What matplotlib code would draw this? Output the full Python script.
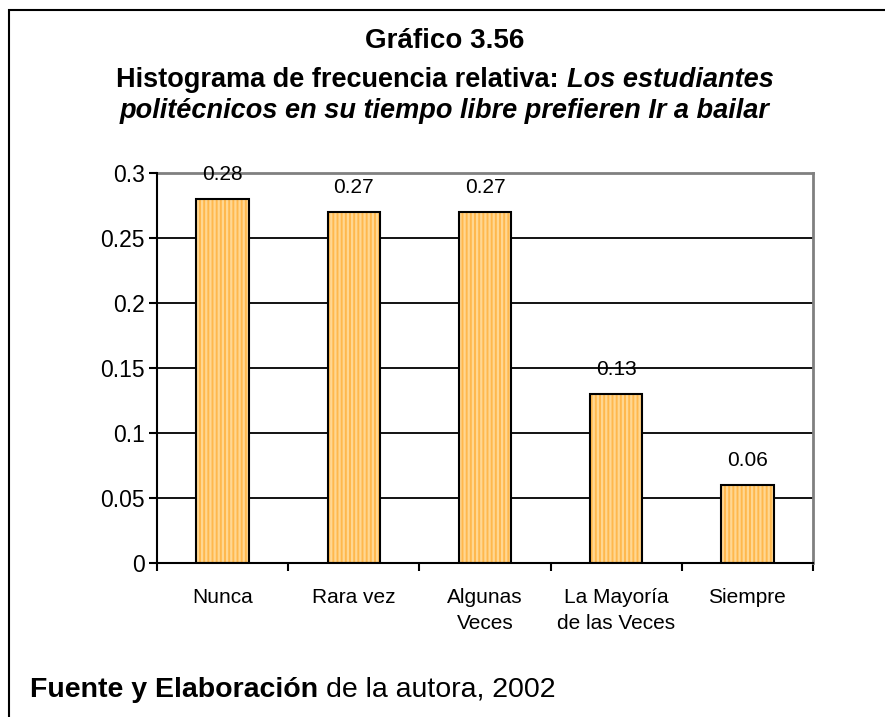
import numpy as np
import matplotlib
matplotlib.use("Agg")
from matplotlib import pyplot as plt
from matplotlib.patches import Rectangle

plt.rcParams['font.family'] = ['Liberation Sans', 'DejaVu Sans']
plt.rcParams['hatch.linewidth'] = 1.6

# frecuencia relativa por categoria
categorias = ['Nunca', 'Rara vez', 'Algunas\nVeces', 'La Mayoría\nde las Veces', 'Siempre']
frecuencia = [0.28, 0.27, 0.27, 0.13, 0.06]
etiquetas = ['0.28', '0.27', '0.27', '0.13', '0.06']
yticks = [0, 0.05, 0.1, 0.15, 0.2, 0.25, 0.3]
ytick_labels = ['0', '0.05', '0.1', '0.15', '0.2', '0.25', '0.3']

W, H = 885, 717
fig = plt.figure(figsize=(W / 100, H / 100), dpi=100)
fig.patch.set_facecolor('white')

# marco exterior
fig.patches.append(Rectangle((9 / W, -0.05), 1.2, 1 - 10 / H + 0.05, transform=fig.transFigure,
                             fill=False, edgecolor='black', linewidth=1.5))

ax = fig.add_axes([157 / W, 1 - 563 / H, (813 - 157) / W, (563 - 173) / H])
x = np.arange(len(categorias))

# relleno rayado y luego el contorno negro
ax.bar(x, frecuencia, width=0.4, color='#FFB84D', edgecolor='#FFD792', linewidth=0,
       hatch='||||', zorder=3)
ax.bar(x, frecuencia, width=0.4, fill=False, edgecolor='black', linewidth=1.5, zorder=4)

for xi, v, t in zip(x, frecuencia, etiquetas):
    ax.annotate(t, (xi, v), xytext=(0, 13.5), textcoords='offset points',
                ha='center', va='baseline', fontsize=15, zorder=5)

ax.set_xlim(-0.5, len(categorias) - 0.5)
ax.set_ylim(0, 0.3)
ax.set_yticks(yticks)
ax.set_yticklabels(ytick_labels)
ax.yaxis.grid(True, color='black', linewidth=1.3)
ax.set_axisbelow(True)

ax.set_xticks(np.arange(len(categorias) + 1) - 0.5)
ax.set_xticklabels([])
ax.set_xticks(x, minor=True)
ax.set_xticklabels(categorias, minor=True, fontsize=15, linespacing=1.45)
ax.tick_params(axis='x', which='major', direction='out', length=6, width=1.5)
ax.tick_params(axis='x', which='minor', length=0, pad=18)
ax.tick_params(axis='y', direction='out', length=6, width=1.5, labelsize=16.5, pad=3)

for s in ['left', 'bottom']:
    ax.spines[s].set_linewidth(1.5)
for s in ['top', 'right']:
    ax.spines[s].set_color('#808080')
    ax.spines[s].set_linewidth(2)
ax.spines['left'].set_zorder(6)
ax.spines['bottom'].set_zorder(6)

renderer = fig.canvas.get_renderer()


def ancho(t):
    return t.get_window_extent(renderer).width


def linea_mixta(partes, y, size, centro=None, izq=None):
    # partes: lista de (texto, peso, estilo); se colocan una tras otra
    textos = [fig.text(0, y / H, p[0], fontsize=size, fontweight=p[1], fontstyle=p[2],
                       va='baseline', ha='left') for p in partes]
    esp = fig.text(0, 0, 'a a', fontsize=size, fontweight='bold')
    sin = fig.text(0, 0, 'aa', fontsize=size, fontweight='bold')
    espacio = ancho(esp) - ancho(sin)
    esp.remove()
    sin.remove()
    anchos = [ancho(t) for t in textos]
    total = sum(anchos) + espacio * (len(textos) - 1)
    x0 = centro - total / 2 if centro is not None else izq
    for t, w in zip(textos, anchos):
        t.set_x(x0 / W)
        x0 += w + espacio
    return textos


fig.text(445 / W, 1 - 48 / H, 'Gráfico 3.56', fontsize=20, fontweight='bold',
         ha='center', va='baseline')
linea_mixta([('Histograma de frecuencia relativa:', 'bold', 'normal'),
             ('Los estudiantes', 'bold', 'italic')], H - 87, 19.5, centro=445)
fig.text(445 / W, 1 - 118 / H, 'politécnicos en su tiempo libre prefieren Ir a bailar',
         fontsize=19.5, fontweight='bold', fontstyle='italic', ha='center', va='baseline')

linea_mixta([('Fuente y Elaboración', 'bold', 'normal'),
             ('de la autora, 2002', 'normal', 'normal')], H - 697, 20.5, izq=30)

fig.savefig('out.png', dpi=100)
